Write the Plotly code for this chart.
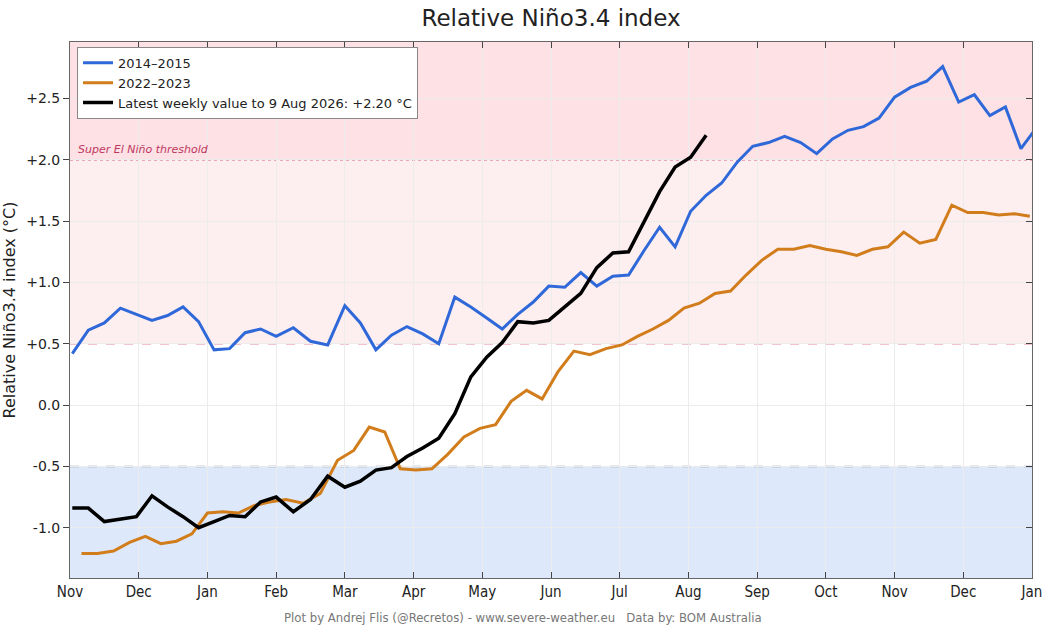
import pandas as pd
import plotly.graph_objects as go

# ---- Data: weekly relative Nino3.4 values (°C) ----
start_2014 = "2014-11-02"
vals_2014 = [0.42, 0.61, 0.67, 0.79, 0.74, 0.69, 0.73, 0.80, 0.68, 0.45,
             0.46, 0.59, 0.62, 0.56, 0.63, 0.52, 0.49, 0.81, 0.67, 0.45,
             0.57, 0.64, 0.58, 0.50, 0.88, 0.80, 0.71, 0.62, 0.74, 0.84,
             0.97, 0.96, 1.08, 0.97, 1.05, 1.06, 1.26, 1.45, 1.29, 1.58,
             1.71, 1.81, 1.98, 2.11, 2.14, 2.19, 2.14, 2.05, 2.17, 2.24,
             2.27, 2.34, 2.51, 2.59, 2.64, 2.76, 2.47, 2.53, 2.36, 2.43,
             2.09, 2.26]

start_2022 = "2022-11-06"
vals_2022 = [-1.21, -1.21, -1.19, -1.12, -1.07, -1.13, -1.11, -1.05, -0.88, -0.87,
             -0.88, -0.82, -0.79, -0.77, -0.80, -0.72, -0.45, -0.37, -0.18, -0.22,
             -0.52, -0.53, -0.52, -0.40, -0.26, -0.19, -0.16, 0.03, 0.12, 0.05,
             0.27, 0.44, 0.41, 0.46, 0.49, 0.56, 0.62, 0.69, 0.79, 0.83,
             0.91, 0.93, 1.06, 1.18, 1.27, 1.27, 1.30, 1.27, 1.25, 1.22,
             1.27, 1.29, 1.41, 1.32, 1.35, 1.63, 1.57, 1.57, 1.55, 1.56,
             1.54]

start_latest = "2025-11-02"
vals_latest = [-0.84, -0.84, -0.95, -0.93, -0.91, -0.74, -0.83, -0.91, -1.00, -0.95,
               -0.90, -0.91, -0.79, -0.75, -0.87, -0.77, -0.58, -0.67, -0.62, -0.53,
               -0.51, -0.42, -0.35, -0.27, -0.07, 0.23, 0.39, 0.51, 0.68, 0.67,
               0.69, 0.80, 0.91, 1.12, 1.24, 1.25, 1.49, 1.74, 1.94, 2.02,
               2.20]

month_labels = ["Nov", "Dec", "Jan", "Feb", "Mar", "Apr", "May", "Jun",
                "Jul", "Aug", "Sep", "Oct", "Nov", "Dec", "Jan"]
y_ticks = [-1.0, -0.5, 0.0, 0.5, 1.0, 1.5, 2.0, 2.5]
y_ticktext = ["-1.0", "-0.5", "0.0", "+0.5", "+1.0", "+1.5", "+2.0", "+2.5"]

NARROW = "Liberation Sans Narrow, DejaVu Sans Condensed, Roboto Condensed, DejaVu Sans"


def month_pos(start, n):
    # months are drawn equally wide, so place each date as a fraction of its month
    dates = pd.date_range(start=start, periods=n, freq="7D")
    y0 = dates[0].year
    return [(d.year - y0) * 12 + (d.month - 11) + (d.day - 1) / d.days_in_month for d in dates]


fig = go.Figure()

fig.add_trace(go.Scatter(x=month_pos(start_2014, len(vals_2014)), y=vals_2014,
                         mode="lines", name="2014–2015",
                         line=dict(color="#2f68d8", width=3)))
fig.add_trace(go.Scatter(x=month_pos(start_2022, len(vals_2022)), y=vals_2022,
                         mode="lines", name="2022–2023",
                         line=dict(color="#d27d1c", width=3)))
fig.add_trace(go.Scatter(x=month_pos(start_latest, len(vals_latest)), y=vals_latest,
                         mode="lines", name="Latest weekly value to 9 Aug 2026: +2.20 °C",
                         line=dict(color="black", width=3.5)))

# dummy trace for the right-hand ticks
fig.add_trace(go.Scatter(x=[0], y=[0], yaxis="y2", mode="markers",
                         marker=dict(opacity=0), showlegend=False, hoverinfo="skip"))

Y_MIN, Y_MAX = -1.41, 2.96

# ---- Background bands ----
bands = [
    (2.0, Y_MAX, "#fde1e5"),
    (0.5, 2.0, "#fdeef0"),
    (Y_MIN, -0.5, "#dde9fa"),
]
for y0, y1, col in bands:
    fig.add_shape(type="rect", xref="x domain", yref="y", x0=0, x1=1, y0=y0, y1=y1,
                  fillcolor=col, line_width=0, layer="below")

# ---- Threshold lines ----
fig.add_shape(type="line", xref="x domain", yref="y", x0=0, x1=1, y0=0.5, y1=0.5,
              line=dict(color="#e7889b", width=1.5, dash="dash"), layer="below")
fig.add_shape(type="line", xref="x domain", yref="y", x0=0, x1=1, y0=-0.5, y1=-0.5,
              line=dict(color="#8e9bb8", width=1.5, dash="dash"), layer="below")
fig.add_shape(type="line", xref="x domain", yref="y", x0=0, x1=1, y0=2.0, y1=2.0,
              line=dict(color="#d9608a", width=1.5, dash="dot"), layer="below")

fig.add_annotation(x=0.006, xref="x domain", y=2.0, yref="y", yshift=2,
                   text="<i>Super El Niño threshold</i>", showarrow=False,
                   xanchor="left", yanchor="bottom",
                   font=dict(family="DejaVu Sans", size=11, color="#c0375f"))

# ---- Footer ----
fig.add_annotation(x=0.471, xref="paper", y=0, yref="paper", yshift=-39,
                   text="Plot by Andrej Flis (@Recretos) - www.severe-weather.eu &nbsp;&nbsp;Data by: BOM Australia",
                   showarrow=False, xanchor="center", yanchor="middle",
                   font=dict(family=NARROW, size=13, color="#777777"))

fig.update_layout(
    width=1049, height=626,
    margin=dict(l=70, r=17, t=42, b=48),
    paper_bgcolor="white",
    plot_bgcolor="white",
    title=dict(text="Relative Niño3.4 index", x=0.5, xref="paper", xanchor="center",
               y=0.972, yref="container", yanchor="middle",
               font=dict(family="DejaVu Sans", size=23, color="#222222")),
    font=dict(family="DejaVu Sans", color="#222222"),
    showlegend=True,
    legend=dict(x=0.0073, y=0.991, xanchor="left", yanchor="top",
                bgcolor="white", bordercolor="#888888", borderwidth=1,
                font=dict(family="DejaVu Sans", size=13, color="#222222"),
                tracegroupgap=0, itemwidth=30),
    xaxis=dict(range=[0, 14], tickvals=list(range(15)), ticktext=month_labels,
               ticks="inside", ticklen=6, tickcolor="#444444", mirror="ticks",
               showline=True, linecolor="#666666", linewidth=1,
               showgrid=True, gridcolor="#ececec", gridwidth=1, zeroline=False,
               automargin=False,
               tickfont=dict(family=NARROW, size=15, color="#222222")),
    yaxis=dict(range=[Y_MIN, Y_MAX], tickvals=y_ticks, ticktext=y_ticktext,
               ticks="outside", ticklen=6, tickcolor="#444444",
               showline=True, linecolor="#666666", linewidth=1,
               showgrid=True, gridcolor="#ececec", gridwidth=1, zeroline=False,
               automargin=False,
               title=dict(text="Relative Niño3.4 index (°C)", standoff=8,
                          font=dict(family="DejaVu Sans", size=16, color="#222222")),
               tickfont=dict(family="DejaVu Sans", size=14, color="#222222")),
    yaxis2=dict(range=[Y_MIN, Y_MAX], overlaying="y", side="right",
                tickvals=y_ticks, showticklabels=False, ticks="inside", ticklen=6,
                tickcolor="#444444", showline=True, linecolor="#666666", linewidth=1,
                showgrid=False, zeroline=False, automargin=False),
)

# drop the default page margin so the figure sits at the window's corner
fig.write_html("out.html", config={"displayModeBar": False},
               post_script="document.body.style.margin='0';")
